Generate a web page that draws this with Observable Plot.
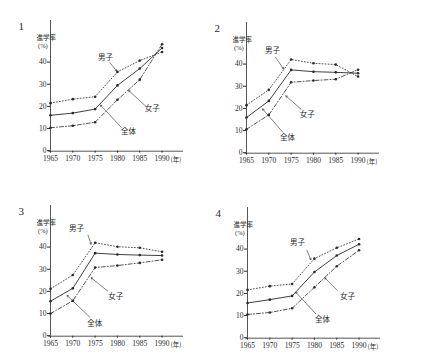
<!DOCTYPE html>
<html>
<head>
<meta charset="utf-8">
<script src="https://cdn.jsdelivr.net/npm/d3@7"></script>
<script src="https://cdn.jsdelivr.net/npm/@observablehq/plot@0.6"></script>
<style>
  html, body { margin: 0; padding: 0; background: #fff; }
  #wrap { position: relative; width: 447px; height: 362px; overflow: hidden; background: #fff; }
  #wrap > div { position: absolute; }
</style>
</head>
<body>
<div id="wrap">
  <div id="p1"></div><div id="p2"></div><div id="p3"></div><div id="p4"></div>
</div>
<script>
// ---- data ----
const years = [1965, 1970, 1975, 1980, 1985, 1990];
const xTickLabels = ["1965", "1970", "1975", "1980", "1985", "1990"];
const yTicks = [0, 10, 20, 30, 40];
const seriesNames = ["男子", "全体", "女子"];
const panelNumbers = ["1", "2", "3", "4"];
const yearUnit = "(年)";
const yLabel = "進学率";
const yUnit = "(%)";

const p1Boys  = [21.7, 23.5, 24.6, 35.8, 40.9, 44.8];
const p1All   = [16.2, 17.2, 19.0, 29.7, 37.3, 46.6];
const p1Girls = [10.6, 11.5, 13.1, 23.2, 32.3, 48.3];

const p2Boys  = [21.7, 28.6, 42.3, 40.6, 40.0, 34.6];
const p2All   = [16.1, 23.6, 37.6, 36.8, 36.5, 36.1];
const p2Girls = [10.8, 17.3, 32.0, 32.8, 33.4, 37.7];

const p3Boys  = [21.4, 27.6, 42.2, 40.4, 39.9, 38.1];
const p3All   = [15.8, 21.6, 37.5, 36.9, 36.6, 36.4];
const p3Girls = [10.2, 16.0, 31.0, 31.9, 33.1, 34.5];

const p4Boys  = [21.8, 23.5, 24.5, 35.9, 40.8, 44.8];
const p4All   = [15.9, 17.4, 19.1, 29.9, 37.3, 42.4];
const p4Girls = [10.7, 11.6, 13.5, 23.0, 32.5, 39.7];

// annotation placement per series (男子, 全体, 女子), in data coordinates (year, rate)
const notes = [
  [ {lx:1977.3, ly:42.4, x1:1978.3, y1:40.0, x2:1979.8, y2:36.2},
    {lx:1982.5, ly:8.9,  x1:1980.9, y1:10.7, x2:1976.2, y2:20.8},
    {lx:1987.8, ly:19.3, x1:1986.3, y1:20.4, x2:1982.5, y2:27.4} ],
  [ {lx:1970.8, ly:46.2, x1:1971.5, y1:43.2, x2:1973.3, y2:38.1},
    {lx:1974.2, ly:7.0,  x1:1973.1, y1:9.5,  x2:1968.6, y2:20.0},
    {lx:1978.6, ly:17.6, x1:1977.2, y1:19.9, x2:1973.8, y2:25.9} ],
  [ {lx:1970.8, ly:48.6, x1:1973.4, y1:45.6, x2:1974.1, y2:41.5},
    {lx:1974.9, ly:5.9,  x1:1973.8, y1:8.6,  x2:1968.7, y2:18.4},
    {lx:1979.6, ly:18.0, x1:1977.8, y1:20.4, x2:1974.1, y2:26.4} ],
  [ {lx:1976.2, ly:43.0, x1:1978.3, y1:39.7, x2:1979.2, y2:35.4},
    {lx:1981.8, ly:8.3,  x1:1980.3, y1:11.0, x2:1975.8, y2:20.8},
    {lx:1987.4, ly:18.9, x1:1985.1, y1:21.6, x2:1982.3, y2:27.3} ]
];

const CJK = "'Noto Sans CJK JP', sans-serif";
const SERIF = "'Liberation Serif', 'DejaVu Serif', serif";
const INK = "#2a2a2a";

function panel(idx, boys, all, girls) {
  const mk = (arr, name) => years.map((y, i) => ({year: y, value: arr[i], series: name}));
  const b = mk(boys, seriesNames[0]), a = mk(all, seriesNames[1]), g = mk(girls, seriesNames[2]);
  const labels = notes[idx].map((n, i) => ({...n, text: seriesNames[i]}));
  return Plot.plot({
    width: 224, height: 181,
    marginLeft: 50, marginRight: 41, marginTop: 20, marginBottom: 30.3,
    x: {domain: [1965, 1994.8], axis: null},
    y: {domain: [0, 59], axis: null},
    style: {fontFamily: SERIF, fontSize: "8px", color: INK, background: "transparent", overflow: "visible"},
    marks: [
      Plot.ruleX([1965], {y1: 0, y2: 59, stroke: INK, strokeWidth: 0.8}),
      Plot.ruleY([0], {x1: 1964.6, x2: 1994.8, stroke: INK, strokeWidth: 0.8}),
      Plot.axisY({ticks: yTicks, tickSize: 3, tickPadding: 1, fontSize: 7.5, dy: -0.5, stroke: INK, fill: INK, fontFamily: SERIF}),
      Plot.axisX({ticks: years, tickSize: 2, tickPadding: 2.5, fontSize: 7.5, stroke: INK, fill: INK, fontFamily: SERIF,
                  tickFormat: d => xTickLabels[years.indexOf(d)]}),
      Plot.text([yearUnit], {x: 1990, y: 0, dx: 8.5, dy: 8.5, textAnchor: "start", fontSize: 6.5, fontFamily: CJK, fill: INK}),
      Plot.text([panelNumbers[idx]], {frameAnchor: "top-left", dx: -32, dy: 2, fontSize: 11, fontFamily: SERIF, fill: INK}),
      Plot.text([yLabel], {frameAnchor: "top-left", dx: -14, dy: 15, fontSize: 6.5, fontFamily: CJK, fill: INK}),
      Plot.text([yUnit], {frameAnchor: "top-left", dx: -12.5, dy: 23, fontSize: 6.5, fontFamily: SERIF, fill: INK}),
      Plot.line(b, {x: "year", y: "value", stroke: INK, strokeWidth: 0.8, strokeDasharray: "1,2"}),
      Plot.line(a, {x: "year", y: "value", stroke: INK, strokeWidth: 0.9}),
      Plot.line(g, {x: "year", y: "value", stroke: INK, strokeWidth: 0.8, strokeDasharray: "4,2,1,2"}),
      Plot.dot([...b, ...a, ...g], {x: "year", y: "value", r: 1.3, fill: INK, stroke: "none"}),
      Plot.arrow(labels, {x1: "x1", y1: "y1", x2: "x2", y2: "y2", stroke: INK, strokeWidth: 0.6, headLength: 4}),
      Plot.text(labels, {x: "lx", y: "ly", text: "text", fontSize: 7.5, fontFamily: CJK, fill: INK})
    ]
  });
}

const places = [
  ["p1", 0, 0], ["p2", 196, 1.5], ["p3", 0, 185], ["p4", 197, 187]
];
const charts = [
  panel(0, p1Boys, p1All, p1Girls),
  panel(1, p2Boys, p2All, p2Girls),
  panel(2, p3Boys, p3All, p3Girls),
  panel(3, p4Boys, p4All, p4Girls)
];
places.forEach(([id, left, top], i) => {
  const el = document.getElementById(id);
  el.style.left = left + "px";
  el.style.top = top + "px";
  el.appendChild(charts[i]);
});
</script>
</body>
</html>
